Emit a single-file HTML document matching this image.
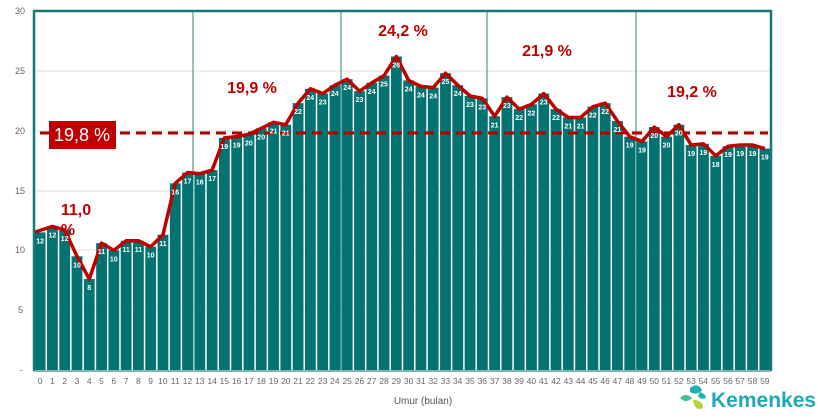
<!DOCTYPE html>
<html><head><meta charset="utf-8"><style>
html,body{margin:0;padding:0;background:#fff;}
svg{display:block;font-family:"Liberation Sans",Arial,sans-serif;}
</style></head><body>
<svg width="818" height="418" viewBox="0 0 818 418" xmlns="http://www.w3.org/2000/svg">
<rect width="818" height="418" fill="#fff"/>
<g stroke="#e2e2e2" stroke-width="1">
<line x1="34" y1="71" x2="771" y2="71"/><line x1="34" y1="131" x2="771" y2="131"/>
<line x1="34" y1="191" x2="771" y2="191"/><line x1="34" y1="250" x2="771" y2="250"/>
<line x1="34" y1="310" x2="771" y2="310"/>
</g>
<g stroke="#2b8582" stroke-width="1">
<line x1="193" y1="11" x2="193" y2="370"/><line x1="341" y1="11" x2="341" y2="370"/>
<line x1="487" y1="11" x2="487" y2="370"/><line x1="636" y1="11" x2="636" y2="370"/>
</g>
<g transform="translate(34,370) scale(12.2833,-11.967)" fill="#037371">
<rect x="0.06" width="0.88" height="11.5"/><rect x="1.06" width="0.88" height="12.0"/><rect x="2.06" width="0.88" height="11.7"/><rect x="3.06" width="0.88" height="9.5"/><rect x="4.06" width="0.88" height="7.6"/><rect x="5.06" width="0.88" height="10.6"/><rect x="6.06" width="0.88" height="10.0"/><rect x="7.06" width="0.88" height="10.8"/><rect x="8.06" width="0.88" height="10.8"/><rect x="9.06" width="0.88" height="10.3"/>
<rect x="10.06" width="0.88" height="11.3"/><rect x="11.06" width="0.88" height="15.6"/><rect x="12.06" width="0.88" height="16.5"/><rect x="13.06" width="0.88" height="16.4"/><rect x="14.06" width="0.88" height="16.7"/><rect x="15.06" width="0.88" height="19.4"/><rect x="16.06" width="0.88" height="19.5"/><rect x="17.06" width="0.88" height="19.7"/><rect x="18.06" width="0.88" height="20.2"/><rect x="19.06" width="0.88" height="20.7"/>
<rect x="20.06" width="0.88" height="20.5"/><rect x="21.06" width="0.88" height="22.3"/><rect x="22.06" width="0.88" height="23.5"/><rect x="23.06" width="0.88" height="23.1"/><rect x="24.06" width="0.88" height="23.8"/><rect x="25.06" width="0.88" height="24.3"/><rect x="26.06" width="0.88" height="23.3"/><rect x="27.06" width="0.88" height="24.0"/><rect x="28.06" width="0.88" height="24.6"/><rect x="29.06" width="0.88" height="26.2"/>
<rect x="30.06" width="0.88" height="24.2"/><rect x="31.06" width="0.88" height="23.7"/><rect x="32.06" width="0.88" height="23.6"/><rect x="33.06" width="0.88" height="24.8"/><rect x="34.06" width="0.88" height="23.8"/><rect x="35.06" width="0.88" height="22.9"/><rect x="36.06" width="0.88" height="22.7"/><rect x="37.06" width="0.88" height="21.2"/><rect x="38.06" width="0.88" height="22.8"/><rect x="39.06" width="0.88" height="21.8"/>
<rect x="40.06" width="0.88" height="22.2"/><rect x="41.06" width="0.88" height="23.1"/><rect x="42.06" width="0.88" height="21.8"/><rect x="43.06" width="0.88" height="21.1"/><rect x="44.06" width="0.88" height="21.1"/><rect x="45.06" width="0.88" height="22.0"/><rect x="46.06" width="0.88" height="22.3"/><rect x="47.06" width="0.88" height="20.8"/><rect x="48.06" width="0.88" height="19.5"/><rect x="49.06" width="0.88" height="19.1"/>
<rect x="50.06" width="0.88" height="20.3"/><rect x="51.06" width="0.88" height="19.5"/><rect x="52.06" width="0.88" height="20.5"/><rect x="53.06" width="0.88" height="18.8"/><rect x="54.06" width="0.88" height="18.9"/><rect x="55.06" width="0.88" height="17.9"/><rect x="56.06" width="0.88" height="18.7"/><rect x="57.06" width="0.88" height="18.8"/><rect x="58.06" width="0.88" height="18.8"/><rect x="59.06" width="0.88" height="18.5"/>
<polyline fill="none" stroke="#c00000" stroke-width="3.5" stroke-linejoin="round" vector-effect="non-scaling-stroke" points="0,11.5 1.5,12.0 2.5,11.7 3.5,9.5 4.5,7.6 5.5,10.6 6.5,10.0 7.5,10.8 8.5,10.8 9.5,10.3 10.5,11.3 11.5,15.6 12.5,16.5 13.5,16.4 14.5,16.7 15.5,19.4 16.5,19.5 17.5,19.7 18.5,20.2 19.5,20.7 20.5,20.5 21.5,22.3 22.5,23.5 23.5,23.1 24.5,23.8 25.5,24.3 26.5,23.3 27.5,24.0 28.5,24.6 29.5,26.2 30.5,24.2 31.5,23.7 32.5,23.6 33.5,24.8 34.5,23.8 35.5,22.9 36.5,22.7 37.5,21.2 38.5,22.8 39.5,21.8 40.5,22.2 41.5,23.1 42.5,21.8 43.5,21.1 44.5,21.1 45.5,22.0 46.5,22.3 47.5,20.8 48.5,19.5 49.5,19.1 50.5,20.3 51.5,19.5 52.5,20.5 53.5,18.8 54.5,18.9 55.5,17.9 56.5,18.7 57.5,18.8 58.5,18.8 59.5,18.5"/>
</g>
<path d="M34,371 V11 H771 V371" fill="none" stroke="#137a76" stroke-width="2.5"/>
<line x1="34" y1="371" x2="771" y2="371" stroke="#5a9c99" stroke-width="1.5"/>
<line x1="40" y1="133" x2="768" y2="133" stroke="#b00000" stroke-width="3" stroke-dasharray="10 6"/>
<rect x="49" y="121" width="67" height="28" fill="#c00000"/>
<text x="82" y="141" font-size="18" fill="#fff" text-anchor="middle">19,8 %</text>
<g font-size="16" font-weight="bold" fill="#c00000" text-anchor="middle">
<text x="76" y="215">11,0</text><text x="68" y="235">%</text>
<text x="252" y="93">19,9 %</text><text x="403" y="36">24,2 %</text>
<text x="547" y="56">21,9 %</text><text x="692" y="97">19,2 %</text>
</g>
<g font-size="9" fill="#666" text-anchor="end">
<text x="25" y="14">30</text><text x="25" y="74">25</text><text x="25" y="134">20</text><text x="25" y="194">15</text><text x="25" y="253">10</text><text x="23" y="313">5</text><text x="23" y="373">-</text>
</g>
<g font-size="7" font-weight="bold" fill="#fff" text-anchor="middle">
<text x="40.1" y="243.4">12</text><text x="52.4" y="237.4">12</text><text x="64.7" y="241">12</text><text x="77" y="267.3">10</text><text x="89.2" y="290">8</text><text x="101.5" y="254.1">11</text><text x="113.8" y="261.3">10</text><text x="126.1" y="251.8">11</text><text x="138.4" y="251.8">11</text><text x="150.6" y="257.7">10</text>
<text x="162.9" y="245.8">11</text><text x="175.2" y="194.3">16</text><text x="187.5" y="183.5">17</text><text x="199.8" y="184.7">16</text><text x="212.1" y="181.1">17</text><text x="224.3" y="148.8">19</text><text x="236.6" y="147.6">19</text><text x="248.9" y="145.3">20</text><text x="261.2" y="139.3">20</text><text x="273.5" y="133.3">21</text>
<text x="285.8" y="135.7">21</text><text x="298" y="114.1">22</text><text x="310.3" y="99.8">24</text><text x="322.6" y="104.6">23</text><text x="334.9" y="96.2">24</text><text x="347.2" y="90.2">24</text><text x="359.5" y="102.2">23</text><text x="371.7" y="93.8">24</text><text x="384" y="86.6">25</text><text x="396.3" y="67.5">26</text>
<text x="408.6" y="91.4">24</text><text x="420.9" y="97.4">24</text><text x="433.2" y="98.6">24</text><text x="445.4" y="84.2">25</text><text x="457.7" y="96.2">24</text><text x="470" y="107">23</text><text x="482.3" y="109.3">23</text><text x="494.6" y="127.3">21</text><text x="506.9" y="108.2">23</text><text x="519.1" y="120.1">22</text>
<text x="531.4" y="115.3">22</text><text x="543.7" y="104.6">23</text><text x="556" y="120.1">22</text><text x="568.3" y="128.5">21</text><text x="580.6" y="128.5">21</text><text x="592.8" y="117.7">22</text><text x="605.1" y="114.1">22</text><text x="617.4" y="132.1">21</text><text x="629.7" y="147.6">19</text><text x="642" y="152.4">19</text>
<text x="654.3" y="138.1">20</text><text x="666.5" y="147.6">20</text><text x="678.8" y="135.7">20</text><text x="691.1" y="156">19</text><text x="703.4" y="154.8">19</text><text x="715.7" y="166.8">18</text><text x="728" y="157.2">19</text><text x="740.2" y="156">19</text><text x="752.5" y="156">19</text><text x="764.8" y="159.6">19</text>
</g>
<g font-size="8.5" fill="#666" text-anchor="middle">
<text x="40.1" y="384">0</text><text x="52.4" y="384">1</text><text x="64.7" y="384">2</text><text x="77" y="384">3</text><text x="89.2" y="384">4</text><text x="101.5" y="384">5</text><text x="113.8" y="384">6</text><text x="126.1" y="384">7</text><text x="138.4" y="384">8</text><text x="150.6" y="384">9</text>
<text x="162.9" y="384">10</text><text x="175.2" y="384">11</text><text x="187.5" y="384">12</text><text x="199.8" y="384">13</text><text x="212.1" y="384">14</text><text x="224.3" y="384">15</text><text x="236.6" y="384">16</text><text x="248.9" y="384">17</text><text x="261.2" y="384">18</text><text x="273.5" y="384">19</text>
<text x="285.8" y="384">20</text><text x="298" y="384">21</text><text x="310.3" y="384">22</text><text x="322.6" y="384">23</text><text x="334.9" y="384">24</text><text x="347.2" y="384">25</text><text x="359.5" y="384">26</text><text x="371.7" y="384">27</text><text x="384" y="384">28</text><text x="396.3" y="384">29</text>
<text x="408.6" y="384">30</text><text x="420.9" y="384">31</text><text x="433.2" y="384">32</text><text x="445.4" y="384">33</text><text x="457.7" y="384">34</text><text x="470" y="384">35</text><text x="482.3" y="384">36</text><text x="494.6" y="384">37</text><text x="506.9" y="384">38</text><text x="519.1" y="384">39</text>
<text x="531.4" y="384">40</text><text x="543.7" y="384">41</text><text x="556" y="384">42</text><text x="568.3" y="384">43</text><text x="580.6" y="384">44</text><text x="592.8" y="384">45</text><text x="605.1" y="384">46</text><text x="617.4" y="384">47</text><text x="629.7" y="384">48</text><text x="642" y="384">49</text>
<text x="654.3" y="384">50</text><text x="666.5" y="384">51</text><text x="678.8" y="384">52</text><text x="691.1" y="384">53</text><text x="703.4" y="384">54</text><text x="715.7" y="384">55</text><text x="728" y="384">56</text><text x="740.2" y="384">57</text><text x="752.5" y="384">58</text><text x="764.8" y="384">59</text>
</g>
<text x="423" y="404" font-size="10" fill="#555" text-anchor="middle">Umur (bulan)</text>
<g>
<path d="M690,388 q8,-6 12,2 q-4,6 -12,2z" fill="#21b0b7"/>
<path d="M680,398 q6,-6 12,0 q-6,6 -12,0z" fill="#3cbf9a"/>
<path d="M693,400 q10,0 10,8 q-8,4 -10,-8z" fill="#b7d433"/>
<path d="M700,392 q6,2 6,6 q-6,2 -8,-2z" fill="#21b0b7"/>
</g>
<text x="711" y="407" font-size="21" font-weight="bold" fill="#22a8b5">Kemenkes</text>
</svg>
</body></html>
